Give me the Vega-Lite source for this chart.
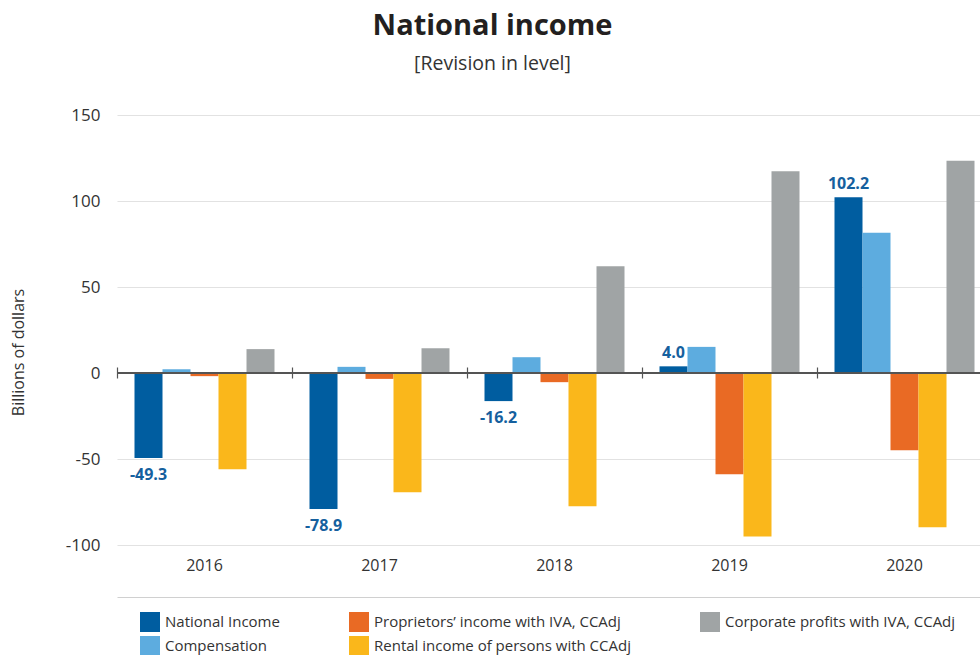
{
  "$schema": "https://vega.github.io/schema/vega-lite/v6.json",
  "width": 875,
  "height": 482,
  "autosize": {"type": "none"},
  "padding": {"left": 117, "top": 115, "right": 0, "bottom": 58},
  "background": "white",
  "title": {
    "text": "National income",
    "subtitle": "[Revision in level]",
    "anchor": "middle",
    "frame": "group",
    "dx": -62,
    "font": "Open Sans",
    "fontSize": 29,
    "fontWeight": "bold",
    "color": "#231f20",
    "subtitleFont": "Open Sans",
    "subtitleFontSize": 19.5,
    "subtitleColor": "#333333",
    "subtitlePadding": 14,
    "offset": 33
  },
  "config": {
    "view": {"stroke": null},
    "font": "Open Sans",
    "locale": {"number": {"decimal": ".", "thousands": ",", "grouping": [3], "currency": ["$", ""], "minus": "-"}}
  },
  "data": {
    "values": [
      {"year": "2016", "series": "National Income", "value": -49.3},
      {"year": "2016", "series": "Compensation", "value": 2.3},
      {"year": "2016", "series": "Proprietors’ income with IVA, CCAdj", "value": -1.7},
      {"year": "2016", "series": "Rental income of persons with CCAdj", "value": -55.8},
      {"year": "2016", "series": "Corporate profits with IVA, CCAdj", "value": 14.0},
      {"year": "2017", "series": "National Income", "value": -78.9},
      {"year": "2017", "series": "Compensation", "value": 3.7},
      {"year": "2017", "series": "Proprietors’ income with IVA, CCAdj", "value": -3.3},
      {"year": "2017", "series": "Rental income of persons with CCAdj", "value": -69.2},
      {"year": "2017", "series": "Corporate profits with IVA, CCAdj", "value": 14.5},
      {"year": "2018", "series": "National Income", "value": -16.2},
      {"year": "2018", "series": "Compensation", "value": 9.3},
      {"year": "2018", "series": "Proprietors’ income with IVA, CCAdj", "value": -5.2},
      {"year": "2018", "series": "Rental income of persons with CCAdj", "value": -77.3},
      {"year": "2018", "series": "Corporate profits with IVA, CCAdj", "value": 62.2},
      {"year": "2019", "series": "National Income", "value": 4.0},
      {"year": "2019", "series": "Compensation", "value": 15.3},
      {"year": "2019", "series": "Proprietors’ income with IVA, CCAdj", "value": -58.7},
      {"year": "2019", "series": "Rental income of persons with CCAdj", "value": -94.8},
      {"year": "2019", "series": "Corporate profits with IVA, CCAdj", "value": 117.3},
      {"year": "2020", "series": "National Income", "value": 102.2},
      {"year": "2020", "series": "Compensation", "value": 81.6},
      {"year": "2020", "series": "Proprietors’ income with IVA, CCAdj", "value": -44.8},
      {"year": "2020", "series": "Rental income of persons with CCAdj", "value": -89.5},
      {"year": "2020", "series": "Corporate profits with IVA, CCAdj", "value": 123.4}
    ]
  },
  "layer": [
    {
      "mark": {"type": "bar"},
      "encoding": {
        "x": {
          "field": "year",
          "type": "nominal",
          "scale": {"paddingInner": 0, "paddingOuter": 0},
          "axis": {
            "orient": "bottom",
            "title": null,
            "labelAngle": 0,
            "domain": true,
            "domainColor": "#d0d0d0",
            "domainWidth": 1.2,
            "ticks": false,
            "tickSize": 0,
            "labelPadding": -40,
            "labelFontSize": 16,
            "labelColor": "#333333",
            "labelFont": "Open Sans"
          }
        },
        "xOffset": {
          "field": "series",
          "type": "nominal",
          "scale": {
            "domain": ["National Income", "Compensation", "Proprietors’ income with IVA, CCAdj", "Rental income of persons with CCAdj", "Corporate profits with IVA, CCAdj"],
            "paddingInner": 0,
            "paddingOuter": 0.625
          }
        },
        "y": {
          "field": "value",
          "type": "quantitative",
          "scale": {"domain": [-130, 150], "nice": false, "zero": false},
          "axis": {
            "values": [-100, -50, 0, 50, 100, 150],
            "title": "Billions of dollars",
            "titleFontSize": 16,
            "titleFontWeight": "normal",
            "titleColor": "#333333",
            "titleX": -99,
            "titleY": 237,
            "titleAngle": -90,
            "titleAlign": "center",
            "titleBaseline": "middle",
            "domain": false,
            "ticks": false,
            "tickSize": 0,
            "labelPadding": 17,
            "labelFontSize": 17,
            "labelColor": "#333333",
            "gridColor": "#e2e2e2",
            "gridWidth": 1.2
          }
        },
        "color": {
          "field": "series",
          "type": "nominal",
          "scale": {
            "domain": ["National Income", "Compensation", "Proprietors’ income with IVA, CCAdj", "Rental income of persons with CCAdj", "Corporate profits with IVA, CCAdj"],
            "range": ["#005DA0", "#5DACDF", "#E96A24", "#FAB71B", "#A0A4A5"]
          },
          "legend": {
            "orient": "none",
            "legendX": 23,
            "legendY": 497,
            "title": null,
            "columns": 3,
            "columnPadding": 69,
            "rowPadding": 4,
            "symbolType": "square",
            "symbolSize": 400,
            "symbolStrokeWidth": 0,
            "symbolOpacity": 1,
            "labelFontSize": 15,
            "labelColor": "#333333",
            "labelOffset": 5,
            "labelLimit": 400
          }
        }
      }
    },
    {
      "mark": {"type": "rule", "color": "#555555", "strokeWidth": 1.2},
      "encoding": {"y": {"datum": 0}}
    },
    {
      "transform": [{"filter": "datum.series === 'National Income' && datum.value < 0"}],
      "mark": {"type": "text", "baseline": "top", "dy": 9, "fontSize": 16, "fontWeight": "bold", "color": "#15609E"},
      "encoding": {
        "x": {
          "field": "year",
          "type": "nominal",
          "axis": {
            "orient": "top",
            "offset": -263,
            "labels": false,
            "domain": false,
            "ticks": true,
            "tickSize": 11,
            "tickColor": "#555555",
            "tickWidth": 1.2,
            "bandPosition": 0,
            "grid": false,
            "title": null
          }
        },
        "xOffset": {"field": "series", "type": "nominal"},
        "y": {"field": "value", "type": "quantitative"},
        "text": {"field": "value", "type": "quantitative", "format": ".1f"}
      }
    },
    {
      "transform": [{"filter": "datum.series === 'National Income' && datum.value >= 0"}],
      "mark": {"type": "text", "baseline": "bottom", "dy": -5, "fontSize": 16, "fontWeight": "bold", "color": "#15609E"},
      "encoding": {
        "x": {"field": "year", "type": "nominal", "axis": null},
        "xOffset": {"field": "series", "type": "nominal"},
        "y": {"field": "value", "type": "quantitative"},
        "text": {"field": "value", "type": "quantitative", "format": ".1f"}
      }
    }
  ],
  "resolve": {"axis": {"x": "independent"}}
}
